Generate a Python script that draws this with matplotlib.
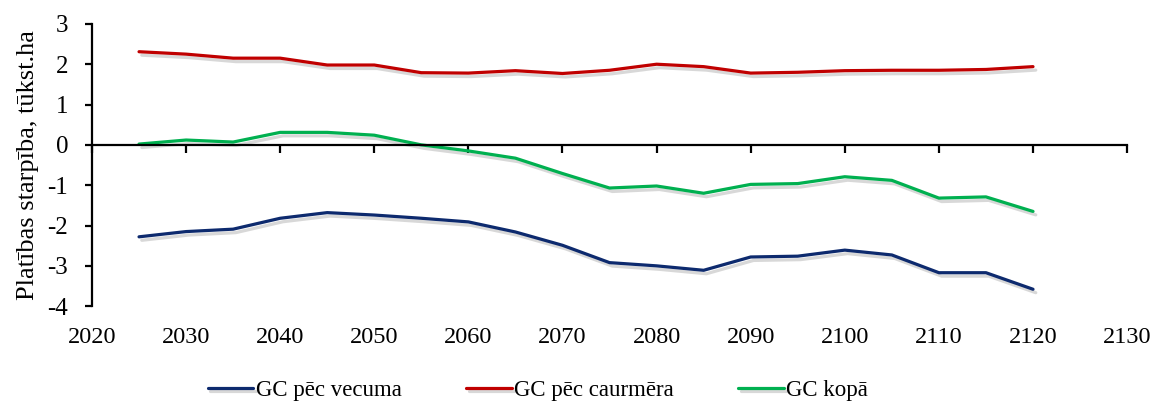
import matplotlib
matplotlib.use('Agg')
import matplotlib.pyplot as plt
import matplotlib.patheffects as pe

# dati
years = [2025, 2030, 2035, 2040, 2045, 2050, 2055, 2060, 2065, 2070,
         2075, 2080, 2085, 2090, 2095, 2100, 2105, 2110, 2115, 2120]
gc_vecums = [-2.28, -2.15, -2.09, -1.82, -1.68, -1.74, -1.82, -1.91, -2.16, -2.49,
             -2.92, -3.00, -3.11, -2.78, -2.76, -2.61, -2.73, -3.17, -3.17, -3.58]
gc_caurmers = [2.31, 2.25, 2.15, 2.15, 1.98, 1.98, 1.79, 1.78, 1.84, 1.77,
               1.85, 2.00, 1.94, 1.78, 1.80, 1.84, 1.85, 1.85, 1.87, 1.94]
gc_kopa = [0.02, 0.12, 0.07, 0.31, 0.31, 0.24, 0.00, -0.15, -0.33, -0.71,
           -1.07, -1.02, -1.20, -0.98, -0.96, -0.79, -0.88, -1.32, -1.29, -1.65]
labels = ['GC pēc vecuma', 'GC pēc caurmēra', 'GC kopā']
colors = ['#0d2a6e', '#c00000', '#00b050']

plt.rcParams['font.family'] = ['Liberation Serif', 'DejaVu Serif']
plt.rcParams['font.size'] = 17
plt.rcParams['axes.unicode_minus'] = False

fig = plt.figure(figsize=(11.54, 4.05), dpi=100)
ax = fig.add_axes([0.0797, 0.244, 0.897, 0.697])

shadow = [pe.SimpleLineShadow(offset=(2.0, -2.5), shadow_color='#808080', alpha=0.3),
          pe.Normal()]
for series, lab, col in zip([gc_vecums, gc_caurmers, gc_kopa], labels, colors):
    ax.plot(years, series, color=col, lw=2.3, label=lab, path_effects=shadow,
            solid_joinstyle='round', solid_capstyle='round')

ax.set_xlim(2020, 2130)
ax.set_ylim(-4, 3)
ax.set_yticks(range(-4, 4))
ax.set_xticks(range(2020, 2131, 10))

# x ass pie nulles
ax.spines['top'].set_visible(False)
ax.spines['right'].set_visible(False)
ax.spines['bottom'].set_position(('data', 0))
ax.spines['bottom'].set_linewidth(1.6)
ax.spines['left'].set_linewidth(1.6)
ax.tick_params(axis='x', direction='out', length=6, width=1.6, labelbottom=False)
ax.tick_params(axis='y', direction='out', length=5, width=1.6, pad=12, labelsize=18)

sec = ax.secondary_xaxis(0)
sec.set_xticks(range(2020, 2131, 10))
sec.tick_params(length=0, pad=15, labelsize=17.5)
sec.spines['bottom'].set_visible(False)

ax.set_ylabel('Platības starpība, tūkst.ha', labelpad=6, fontsize=19)

fig.legend(loc='center', bbox_to_anchor=(0.466, 0.037), ncol=3, frameon=False,
           handlelength=2.0, handletextpad=0.1, columnspacing=2.8, fontsize=16.5)

fig.savefig('out.png', dpi=100)
